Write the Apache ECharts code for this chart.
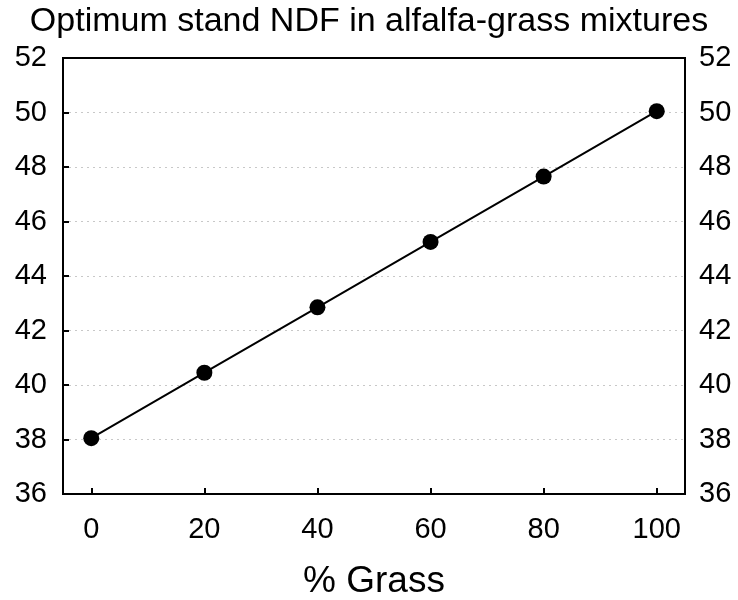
<!DOCTYPE html>
<html>
<head>
<meta charset="utf-8">
<script src="https://cdn.jsdelivr.net/npm/echarts@6/dist/echarts.min.js"></script>
<style>
  html, body { margin: 0; padding: 0; background: #fff; }
  #chart { width: 738px; height: 600px; }
</style>
</head>
<body>
<div id="chart"></div>
<script>
// % grass in the mixture and optimum stand NDF
var grassPct = [0, 20, 40, 60, 80, 100];
var ndf = [38.05, 40.45, 42.85, 45.25, 47.65, 50.05];
var xTicks = [0, 20, 40, 60, 80, 100];

var chart = echarts.init(document.getElementById('chart'));

var font = 'Liberation Sans, Arial, sans-serif';

// y axis setup, same on both sides
function yAxisFor(side) {
  return {
    type: 'value',
    position: side,
    min: 36,
    max: 52,
    interval: 2,
    axisLine: { show: true, onZero: false, lineStyle: { color: '#000', width: 2 } },
    axisTick: { show: side === 'left', inside: true, length: 6, lineStyle: { color: '#000', width: 2 } },
    axisLabel: { color: '#000', fontSize: 29, fontFamily: font, margin: side === 'left' ? 16 : 14 },
    splitLine: {
      show: side === 'left',
      showMinLine: false,
      showMaxLine: false,
      lineStyle: { color: '#c8c8c8', width: 1, type: [2, 4] }
    }
  };
}

var option = {
  animation: false,
  backgroundColor: '#fff',
  title: {
    text: 'Optimum stand NDF in alfalfa-grass mixtures',
    left: 'center',
    top: 0,
    textStyle: { color: '#000', fontSize: 34, fontWeight: 'normal', fontFamily: font }
  },
  grid: {
    left: 63,
    right: 53,
    top: 58,
    bottom: 106,
    outerBoundsMode: 'none',
    containLabel: false,
    show: true,
    borderColor: '#000',
    borderWidth: 2
  },
  xAxis: {
    type: 'value',
    min: -5,
    max: 105,
    name: '% Grass',
    nameLocation: 'middle',
    nameGap: 69,
    nameTextStyle: { color: '#000', fontSize: 37, fontFamily: font },
    axisLine: { show: true, onZero: false, lineStyle: { color: '#000', width: 2 } },
    axisTick: { show: true, inside: true, length: 6, customValues: xTicks, lineStyle: { color: '#000', width: 2 } },
    axisLabel: { color: '#000', fontSize: 29, fontFamily: font, margin: 21, customValues: xTicks },
    splitLine: { show: false }
  },
  yAxis: [yAxisFor('left'), yAxisFor('right')],
  series: [
    {
      type: 'line',
      data: grassPct.map(function (g, i) { return [g, ndf[i]]; }),
      symbol: 'circle',
      symbolSize: 16,
      itemStyle: { color: '#000' },
      lineStyle: { color: '#000', width: 2 }
    }
  ]
};

chart.setOption(option);
</script>
</body>
</html>
